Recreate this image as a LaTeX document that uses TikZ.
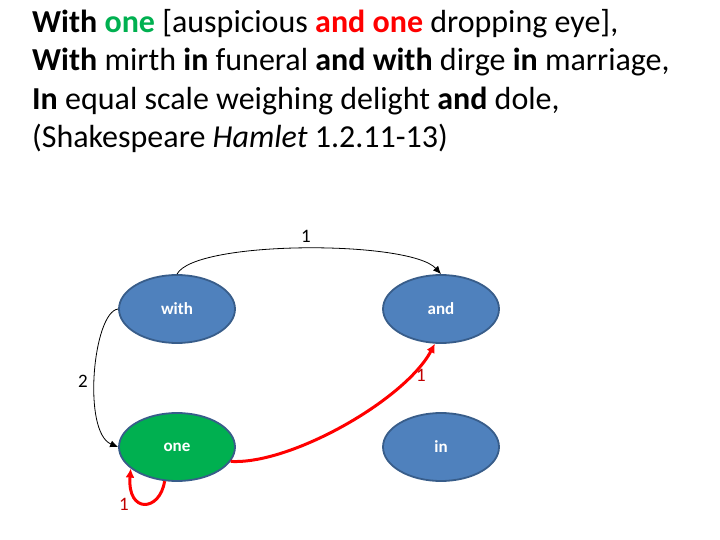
\documentclass[tikz,border=0pt]{standalone}
\usepackage{fontspec}
\setmainfont{Carlito}
\usetikzlibrary{shapes.geometric,arrows.meta,positioning}

\definecolor{nodeblue}{HTML}{4F81BD}
\definecolor{nodeline}{HTML}{385D8A}
\definecolor{nodegreen}{HTML}{00B050}
\definecolor{wordred}{HTML}{FF0000}
\definecolor{labelred}{HTML}{C00000}

\begin{document}
\begin{tikzpicture}[
    x=1pt,
    y=-1pt,
    node distance=138pt and 264pt,
    on grid,
    word/.style={
        ellipse,
        draw=nodeline,
        line width=1.8pt,
        fill=nodeblue,
        minimum width=116pt,
        minimum height=68pt,
        text=white,
        font=\fontsize{17}{20}\selectfont\bfseries
    },
    label/.style={
        inner sep=1pt,
        font=\fontsize{19}{22}\selectfont
    },
    line/.style={
        draw,
        -{Latex[length=8pt,width=7pt]},
        line width=0.8pt
    },
    redline/.style={
        draw=wordred,
        -{Latex[length=9pt,width=9pt]},
        line width=3pt
    }
]
\useasboundingbox (0,0) rectangle (720,540);

% Quote
\node [anchor=north west, inner sep=0pt, align=left,
    font=\fontsize{32}{38.5}\selectfont] (quote) at (32,9)
    {\textbf{With} \textcolor{nodegreen}{\textbf{one}} [auspicious \textcolor{wordred}{\textbf{and one}} dropping eye],\\
     \textbf{With} mirth \textbf{in} funeral \textbf{and with} dirge \textbf{in} marriage,\\
     \textbf{In} equal scale weighing delight \textbf{and} dole,\\
     (Shakespeare \textit{Hamlet} 1.2.11-13)};

% Nodes
\node [word] (with) at (177,309) {with};
\node [word, right=of with] (and) {and};
\node [word, below=of with, fill=nodegreen] (one) {one};
\node [word, below=of and] (in) {in};

% Edges
\path [line] (with.north) .. controls (195,240) and (410,240) .. (and.north);
\node [label] (l1) at (306,236) {1};

\path [line] (with.west) .. controls (93,312) and (82,432) .. (one.west);
\node [label] (l2) at (83,381) {2};

\path [redline] (one.-15) .. controls (290,465) and (405,400) .. (and.-100);
\node [label, text=labelred] (l3) at (421,375) {1};

\path [redline] (one.-110) .. controls (160,512) and (127,514) .. (one.-155);
\node [label, text=labelred] (l4) at (124,504) {1};

\end{tikzpicture}
\end{document}
